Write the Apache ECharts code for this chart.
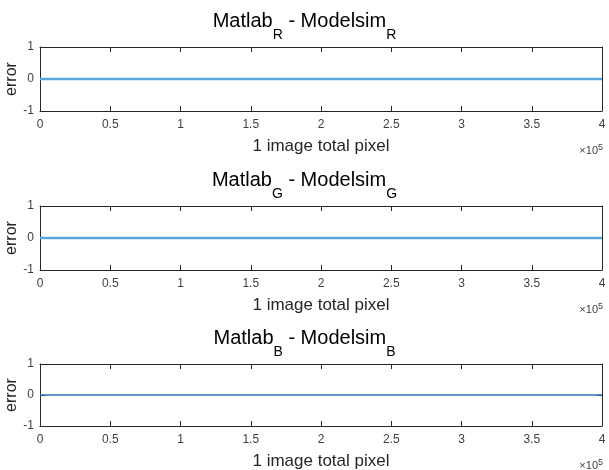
<!DOCTYPE html>
<html><head><meta charset="utf-8">
<script src="https://cdn.jsdelivr.net/npm/echarts@6/dist/echarts.min.js"></script>
<style>html,body{margin:0;padding:0;background:#fff}#c{width:609px;height:470px}</style>
</head><body><div id="c"></div>
<script>
// Data
const channels = ['R', 'G', 'B'];
const pixelIndex = [0, 100000, 200000, 300000, 400000];
const errorR = [0, 0, 0, 0, 0];
const errorG = [0, 0, 0, 0, 0];
const errorB = [0, 0, 0, 0, 0];
const xTickLabels = ['0', '0.5', '1', '1.5', '2', '2.5', '3', '3.5', '4'];
const yTicks = [-1, 0, 1];
const seriesValues = [errorR, errorG, errorB];

const FONT = 'Liberation Sans, Arial, Helvetica, sans-serif';
const grids = [
  {left: 40, right: 7, top: 47, height: 64, outerBoundsMode: 'none', containLabel: false},
  {left: 40, right: 7, top: 206, height: 64, outerBoundsMode: 'none', containLabel: false},
  {left: 40, right: 7, top: 364, height: 62, outerBoundsMode: 'none', containLabel: false}
];
const lineStyles = [
  {color: '#58a6da', width: 2.4},
  {color: '#58a6da', width: 2.4},
  {color: '#2b73b4', width: 1.3}
];
const axisColor = '#262626';
const xAxes = [], yAxes = [], series = [], titles = [], graphics = [];
grids.forEach((g, i) => {
  xAxes.push({
    type: 'value', gridIndex: i, min: 0, max: 400000, interval: 50000, position: 'bottom',
    axisLine: {show: true, onZero: false, lineStyle: {color: axisColor, width: 1}},
    axisTick: {show: true, inside: true, length: 5, lineStyle: {color: axisColor}},
    splitLine: {show: false},
    axisLabel: {color: '#404040', fontFamily: FONT, fontSize: 12, margin: 8,
      formatter: v => xTickLabels[Math.round(v / 50000)]},
    name: '1 image total pixel', nameLocation: 'middle', nameGap: 27,
    nameTextStyle: {color: '#262626', fontFamily: FONT, fontSize: 17}
  });
  xAxes.push({
    type: 'value', gridIndex: i, min: 0, max: 400000, interval: 50000, position: 'top',
    axisLine: {show: true, onZero: false, lineStyle: {color: axisColor, width: 1}},
    axisTick: {show: true, inside: true, length: 5, lineStyle: {color: axisColor}},
    splitLine: {show: false}, axisLabel: {show: false}
  });
  yAxes.push({
    type: 'value', gridIndex: i, min: -1, max: 1, interval: 1, position: 'left',
    axisLine: {show: true, onZero: false, lineStyle: {color: axisColor, width: 1}},
    axisTick: {show: true, inside: true, length: 5, lineStyle: {color: axisColor}},
    splitLine: {show: false},
    axisLabel: {color: '#404040', fontFamily: FONT, fontSize: 12, margin: 6}
  });
  yAxes.push({
    type: 'value', gridIndex: i, min: -1, max: 1, interval: 1, position: 'right',
    axisLine: {show: true, onZero: false, lineStyle: {color: axisColor, width: 1}},
    axisTick: {show: true, inside: true, length: 5, lineStyle: {color: axisColor}},
    splitLine: {show: false}, axisLabel: {show: false}
  });
  series.push({
    type: 'line', xAxisIndex: i * 2, yAxisIndex: i * 2, showSymbol: false, symbol: 'none',
    data: pixelIndex.map((x, k) => [x, seriesValues[i][k]]),
    lineStyle: lineStyles[i], silent: true, animation: false
  });
  const c = channels[i];
  titles.push({
    text: '{m|Matlab}{s|' + c + '}{m| - Modelsim}{s|' + c + '}',
    left: 'center', top: g.top - 36, padding: 0,
    textStyle: {
      color: '#000', fontFamily: FONT, fontSize: 20, fontWeight: 'normal',
      rich: {
        m: {fontFamily: FONT, fontSize: 20, color: '#000', verticalAlign: 'top', lineHeight: 22},
        s: {fontFamily: FONT, fontSize: 14, color: '#000', verticalAlign: 'top', lineHeight: 16, padding: [17, 0, 0, 0]}
      }
    }
  });
  graphics.push({
    type: 'text', right: 6, top: g.top + g.height + 32,
    style: {text: '×10{p|5}', fontFamily: FONT, fontSize: 11, fill: '#404040',
      rich: {p: {fontSize: 9, fill: '#404040', padding: [0, 0, 6, 0]}}}
  });
  graphics.push({
    type: 'text', x: 12, y: g.top + g.height / 2, rotation: Math.PI / 2,
    style: {text: 'error', fontFamily: FONT, fontSize: 16, fill: '#262626',
      align: 'center', verticalAlign: 'middle'}
  });
});
const chart = echarts.init(document.getElementById('c'), null, {renderer: 'canvas'});
chart.setOption({
  animation: false,
  backgroundColor: '#fff',
  title: titles,
  grid: grids,
  xAxis: xAxes,
  yAxis: yAxes,
  series: series,
  graphic: graphics
});
</script></body></html>
